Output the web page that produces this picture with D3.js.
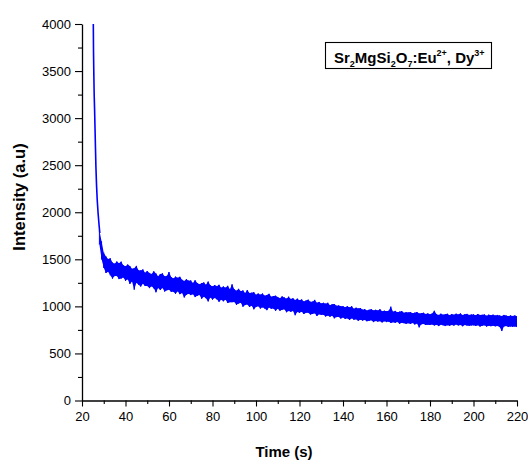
<!DOCTYPE html>
<html><head><meta charset="utf-8">
<script src="https://cdn.jsdelivr.net/npm/d3@7"></script>
<style>body{margin:0;background:#fff}svg{display:block}</style>
</head><body>
<svg id="c" width="528" height="460"></svg>
<script>
// ---- data ----
const xMajorTicks = [20, 40, 60, 80, 100, 120, 140, 160, 180, 200, 220];
const xMinorTicks = [30, 50, 70, 90, 110, 130, 150, 170, 190, 210];
const yMajorTicks = [0, 500, 1000, 1500, 2000, 2500, 3000, 3500, 4000];
const yMinorTicks = [250, 750, 1250, 1750, 2250, 2750, 3250, 3750];

// initial fast decay (s, a.u.)
const decayTime = [25.2, 25.3, 25.45, 25.6, 25.8, 26.0, 26.2, 26.4, 26.7, 27.0, 27.4, 27.9, 28.2];
const decayIntensity = [4000, 3700, 3450, 3250, 3080, 2880, 2680, 2480, 2280, 2130, 1990, 1850, 1780];

// noisy afterglow: upper / lower reading per second from t = 28 s to 220 s
const bandStartTime = 28;
const bandHigh = [
  1810,1690,
  1570,1530,1502,1510,1465,1453,1476,1457,1475,1437,
  1426,1444,1428,1399,1405,1430,1383,1382,1392,1357,
  1375,1355,1344,1372,1349,1321,1343,1350,1321,1324,
  1365,1311,1297,1316,1303,1314,1282,1269,1288,1273,
  1275,1249,1277,1248,1234,1247,1254,1230,1263,1225,
  1212,1226,1214,1229,1198,1211,1198,1218,1183,1234,
  1182,1165,1186,1162,1169,1141,1173,1141,1145,1151,
  1123,1136,1124,1136,1114,1120,1133,1101,1109,1113,
  1099,1087,1106,1094,1082,1103,1079,1085,1067,1082,
  1065,1074,1053,1062,1071,1048,1050,1069,1038,1047,
  1030,1038,1029,1038,1013,1022,1024,1006,1010,1001,
  1002,991,1002,988,1001,975,986,978,982,965,
  970,956,964,970,956,963,956,969,948,954,
  947,953,997,944,952,937,944,950,931,938,
  935,940,926,933,940,924,928,932,918,925,
  916,924,953,917,909,922,912,916,921,906,
  919,911,922,913,925,908,916,920,909,913,
  915,905,919,908,910,914,900,912,906,912,
  903,909,903,897,909,902,896,903,898,903,895
];
const bandLow = [
  1660,1500,
  1410,1355,1368,1331,1295,1322,1322,1290,1296,1307,
  1272,1288,1239,1264,1178,1251,1231,1211,1240,1217,
  1216,1194,1214,1192,1150,1195,1174,1196,1158,1171,
  1177,1155,1156,1134,1161,1130,1143,1095,1124,1134,
  1120,1129,1099,1113,1122,1082,1103,1087,1053,1095,
  1072,1090,1075,1049,1071,1054,1070,1036,1045,1045,
  1046,1016,1031,1038,997,1014,1021,994,1007,969,
  994,1002,977,990,978,960,988,974,977,953,
  975,954,963,969,938,951,943,952,906,941,
  932,944,919,932,932,914,919,927,898,916,
  909,912,893,902,891,900,873,886,887,871,
  882,867,873,855,873,858,862,847,859,849,
  855,842,847,853,833,844,838,843,830,842,
  833,838,824,832,825,834,816,827,822,815,
  822,814,824,808,817,777,809,814,802,806,
  803,808,798,804,791,806,799,791,800,793,
  803,796,807,798,802,789,803,796,793,798,
  799,792,800,786,794,799,786,794,790,794,
  788,792,782,738,787,791,781,787,783,786,780
];

// ---- chart ----
const svg = d3.select('#c');
const FONT = "'Liberation Sans', Arial, Helvetica, sans-serif";
const x = d3.scaleLinear().domain([20, 220]).range([82, 517]);
const y = d3.scaleLinear().domain([0, 4000]).range([400.5, 24]);

svg.append('clipPath').attr('id', 'plotClip')
  .append('rect').attr('x', 82).attr('y', 24).attr('width', 435).attr('height', 376.5);

const bandTime = bandHigh.map((_, i) => bandStartTime + i);
const band = bandTime.map((t, i) => ({t, hi: bandHigh[i], lo: bandLow[i]}));

const g = svg.append('g').attr('clip-path', 'url(#plotClip)');

g.append('path').datum(band)
  .attr('d', d3.area().x(d => x(d.t)).y0(d => y(d.lo)).y1(d => y(d.hi)))
  .attr('fill', '#0000ff').attr('stroke', 'none');

const zig = [];
band.forEach(d => { zig.push([d.t, d.hi]); zig.push([d.t, d.lo]); });
g.append('path').datum(zig)
  .attr('d', d3.line().x(d => x(d[0])).y(d => y(d[1])))
  .attr('fill', 'none').attr('stroke', '#0000ff').attr('stroke-width', 1);

g.append('path').datum(decayTime.map((t, i) => [t, decayIntensity[i]]))
  .attr('d', d3.line().x(d => x(d[0])).y(d => y(d[1])))
  .attr('fill', 'none').attr('stroke', '#0000ff').attr('stroke-width', 1.6);

// axes
function styleAxis(sel) {
  sel.selectAll('path.domain').attr('stroke', '#000').attr('stroke-width', 1.3);
  sel.selectAll('.tick line').attr('stroke', '#000').attr('stroke-width', 1.1);
  sel.selectAll('text').attr('font-family', FONT).attr('font-size', 13).attr('fill', '#000');
}
const xAxis = svg.append('g').attr('transform', 'translate(0,400.5)')
  .call(d3.axisBottom(x).tickValues(xMajorTicks).tickFormat(d3.format('d')).tickSize(6).tickSizeOuter(0).tickPadding(5));
styleAxis(xAxis);
const xMinor = svg.append('g').attr('transform', 'translate(0,400.5)')
  .call(d3.axisBottom(x).tickValues(xMinorTicks).tickFormat('').tickSize(3.5).tickSizeOuter(0));
styleAxis(xMinor);
xMinor.select('path.domain').remove();

const yAxis = svg.append('g').attr('transform', 'translate(82,0)')
  .call(d3.axisLeft(y).tickValues(yMajorTicks).tickFormat(d3.format('d')).tickSize(7).tickSizeOuter(0).tickPadding(4));
styleAxis(yAxis);
const yMinor = svg.append('g').attr('transform', 'translate(82,0)')
  .call(d3.axisLeft(y).tickValues(yMinorTicks).tickFormat('').tickSize(4).tickSizeOuter(0));
styleAxis(yMinor);
yMinor.select('path.domain').remove();

// axis titles
svg.append('text').attr('x', 284).attr('y', 457).attr('text-anchor', 'middle')
  .attr('font-family', FONT).attr('font-weight', 'bold').attr('font-size', 15)
  .text('Time (s)');
svg.append('text').attr('transform', 'translate(25,197) rotate(-90)').attr('text-anchor', 'middle')
  .attr('font-family', FONT).attr('font-weight', 'bold').attr('font-size', 16.5)
  .text('Intensity (a.u)');

// legend box
svg.append('rect').attr('x', 325.5).attr('y', 42.5).attr('width', 166).attr('height', 26)
  .attr('fill', '#fff').attr('stroke', '#000').attr('stroke-width', 1.1);
const lt = svg.append('text').attr('x', 334).attr('y', 63)
  .attr('font-family', FONT).attr('font-weight', 'bold').attr('font-size', 15).attr('fill', '#000');
const parts = [
  ['Sr', 0], ['2', 1], ['MgSi', 0], ['2', 1], ['O', 0], ['7', 1], [':Eu', 0], ['2+', -1], [', Dy', 0], ['3+', -1]
];
let prev = 0;
parts.forEach(([s, k]) => {
  const off = k === 1 ? 4 : (k === -1 ? -7 : 0);
  lt.append('tspan').attr('dy', off - prev).attr('font-size', k === 0 ? 15 : 9).text(s);
  prev = off;
});
</script>
</body></html>
